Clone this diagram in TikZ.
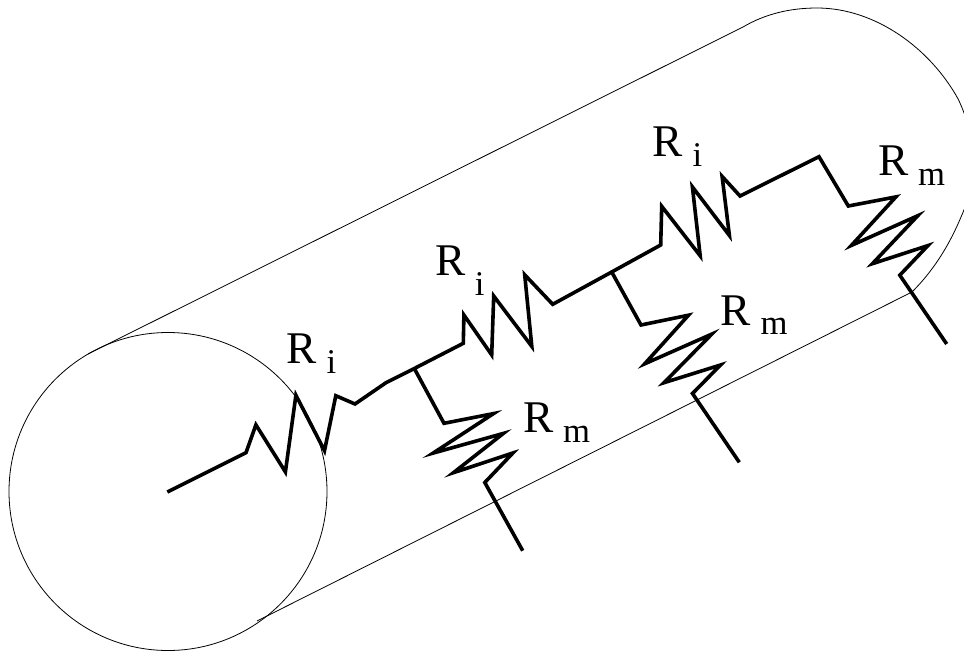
\documentclass[tikz,border=0pt]{standalone}
\usepackage{fontspec}
\setmainfont{Liberation Serif}
\usepackage{tikz}
\usetikzlibrary{positioning,calc}
\newcommand{\resname}[2]{\fontsize{34}{34}\selectfont R\hspace{7pt}\raisebox{-#2}{\fontsize{26}{26}\selectfont #1}}

\begin{document}
\begin{tikzpicture}[x=0.75pt,y=-0.75pt,
  shell/.style={draw,line width=0.6pt},
  wire/.style={draw,line width=2.7pt,miter limit=14},
  rlabel/.style={inner sep=0pt,anchor=base west}]
\useasboundingbox (0,0) rectangle (964,650);
\coordinate (junctionA) at (414.3,368.5);
\coordinate (junctionB) at (611.7,272);
% cylinder
\draw[shell] (168,491.5) circle[radius=119.25pt];
\draw[shell] (88,354)--(743,27)
  .. controls (765,14) and (790,8) .. (817,8)
  .. controls (875,8) and (930,48) .. (958.3,99.3)
  .. controls (975,135) and (980,175) .. (961,217)
  .. controls (948,248) and (932,272) .. (912,292)--(257,621);
% axial resistors
\draw[wire] (167.3,492)--(246,452.7)--(255.9,424.8)--(285.4,471.9)--(295.9,395.2)--(324.5,450.7)
  --(335.8,395.7)--(355,404)--(386,382.7)--(junctionA)--(463.3,343.3)--(463.9,315)
  --(491.7,354.9)--(493.7,296)--(531.8,346.4)--(524.7,274.8)--(552.7,304.3)--(junctionB)
  --(660.7,245)--(661.7,206.3)--(700.2,255.8)--(692.4,186.9)--(729.4,235.5)--(722.1,176.4)
  --(740,196)--(819,156.7)--(848.3,206)--(895.9,196.9)--(851.4,245.4)--(917.8,215.7)
  --(872.4,263.7)--(927.9,245.6)--(899.8,275.2)--(946.7,344);
% membrane resistors
\draw[wire] (junctionA)--(444,423.3)--(493.5,413.6)--(433.1,453.1)--(503.4,433.4)--(453.4,472.7)
  --(512.9,453)--(484.8,482.5)--(522.7,550.7);
\draw[wire] (junctionB)--(641,325)--(688.5,315.2)--(644.7,363.8)--(711.8,334.1)--(664,382.7)
  --(720.5,365)--(692.5,393.5)--(739.3,462.3);
% labels
\node[rlabel] (ri1) at (286.7,363.3) {\resname{i}{7.5pt}};
\node[rlabel] (ri2) at (435,275) {\resname{i}{15pt}};
\node[rlabel] (ri3) at (652.7,156.7) {\resname{i}{7.5pt}};
\node[rlabel] (rm1) at (523.3,432.7) {\resname{m}{7.5pt}};
\node[rlabel] (rm2) at (720.7,325) {\resname{m}{7pt}};
\node[rlabel] (rm3) at (878.3,175.7) {\resname{m}{7.5pt}};
\end{tikzpicture}
\end{document}
